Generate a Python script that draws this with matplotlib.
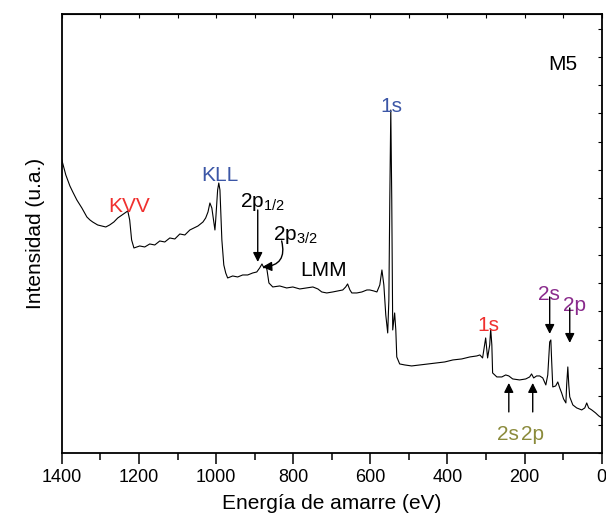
import matplotlib
matplotlib.use('Agg')
import matplotlib.pyplot as plt
from matplotlib.ticker import MultipleLocator, NullFormatter

plt.rcParams['font.family'] = ['Liberation Sans', 'DejaVu Sans']
plt.rcParams['mathtext.fontset'] = 'custom'
plt.rcParams['mathtext.rm'] = 'Liberation Sans'

# espectro XPS (energia de ligacao em eV, intensidade em u.a.)
energia = [1400, 1389.6, 1379, 1371.5, 1361, 1348, 1335, 1327, 1320, 1307,
           1296, 1286, 1276, 1265, 1255, 1244, 1237, 1229, 1224, 1219,
           1213, 1198, 1185, 1172, 1159, 1146, 1133, 1120, 1107, 1094,
           1081, 1068, 1047, 1034, 1027,
           1021, 1016, 1011, 1006, 1003, 1001, 996, 993, 990, 985,
           980, 975, 970, 957, 944, 931, 918, 905, 894.5, 887,
           881, 876, 871, 868, 863, 853, 835, 817, 801, 783,
           765, 749, 736, 726, 713, 697.6, 684.5, 671.5, 664, 659,
           653, 648, 635, 622, 609, 601.5, 591, 583, 575.5, 570,
           565, 560, 555, 552, 549.6, 547, 544.5, 542, 537, 534,
           531.5, 524, 511, 493, 472, 451, 428, 407, 386, 363,
           342, 324, 316, 309, 301, 296, 290.5, 288, 285, 283,
           272, 259, 249, 241, 231, 213, 197, 187, 182, 176.5,
           169, 161, 153, 145, 140, 135, 132, 130, 127, 119.5,
           114, 109, 104, 99, 93, 91, 88, 85.5, 83, 75,
           65, 52, 44, 39, 34, 26, 16, 7.8, 0]
intensidade = [293, 278, 267, 261, 253, 245, 236, 233, 231, 228,
               227, 226, 228, 231, 235, 238, 240, 242, 233, 213,
               205, 207, 206, 209, 208, 212, 211, 215, 214, 219,
               218, 223, 227, 231, 235,
               241, 250, 245, 231, 223, 233, 263, 270, 263, 213,
               188, 180, 175, 177, 176, 178, 178, 180, 181, 185,
               189, 185, 187, 183, 170, 166, 167, 165, 166, 164,
               165, 166, 164, 161, 160, 161, 162, 163, 166, 169,
               163, 160, 160, 161, 163, 163, 162, 161, 168, 183,
               168, 138, 120, 153, 253, 343, 253, 123, 140, 123,
               96, 89, 88, 87, 88, 89, 90, 91, 93, 94,
               96, 97, 98, 95, 115, 95, 108, 124, 108, 80,
               76, 76, 78, 77, 74, 73, 74, 76, 79, 75,
               77, 77, 75, 68, 78, 111, 113, 93, 66, 67,
               71, 65, 60, 54, 50, 68, 86, 68, 56, 48,
               45, 43, 45, 50, 45, 43, 40, 37, 35]

vermelho = '#f0302f'
azul = '#3b56a6'
roxo = '#8a2b8c'
oliva = '#8b8b3c'

fig = plt.figure(figsize=(6.06, 5.2), dpi=100)
ax = fig.add_axes([0.102, 0.129, 0.891, 0.844])
ax.plot(energia, intensidade, color='black', lw=0.8)

ax.set_xlim(1400, 0)
ax.set_ylim(0, 439)
ax.xaxis.set_major_locator(MultipleLocator(200))
ax.xaxis.set_minor_locator(MultipleLocator(100))
ax.yaxis.set_major_locator(MultipleLocator(28.3))
ax.tick_params(axis='x', which='major', direction='out', length=8, width=1.1, labelsize=13)
ax.tick_params(axis='x', which='minor', direction='out', length=5, width=1.1)
ax.tick_params(axis='y', left=False, right=True, labelleft=False, direction='in',
               length=3, width=0.8)
for s in ax.spines.values():
    s.set_linewidth(1.3)

topo = ax.secondary_xaxis('top')
topo.xaxis.set_major_locator(MultipleLocator(200))
topo.xaxis.set_minor_locator(MultipleLocator(100))
topo.xaxis.set_major_formatter(NullFormatter())
topo.tick_params(which='both', direction='in', length=3, width=0.8)

ax.set_xlabel('Energía de amarre (eV)', fontsize=15, labelpad=6)
ax.set_ylabel('Intensidad (u.a.)', fontsize=15, labelpad=12)

fs = 15
ax.text(101, 389, 'M5', fontsize=fs, ha='center', va='center')
ax.text(1226, 246, 'KVV', color=vermelho, fontsize=fs, ha='center', va='center')
ax.text(990, 277, 'KLL', color=azul, fontsize=fs, ha='center', va='center')
ax.text(544.5, 347, '1s', color=azul, fontsize=fs, ha='center', va='center')
ax.text(721, 182, 'LMM', fontsize=fs, ha='center', va='center')
ax.text(293, 127, '1s', color=vermelho, fontsize=fs, ha='center', va='center')
ax.text(939, 246, r'2p$_{\mathregular{1/2}}$', fontsize=fs, ha='left', va='baseline')
ax.text(853, 213, r'2p$_{\mathregular{3/2}}$', fontsize=fs, ha='left', va='baseline')
ax.text(137, 158, '2s', color=roxo, fontsize=fs, ha='center', va='center')
ax.text(70, 147, '2p', color=roxo, fontsize=fs, ha='center', va='center')
ax.text(244, 18, '2s', color=oliva, fontsize=fs, ha='center', va='center')
ax.text(179, 18, '2p', color=oliva, fontsize=fs, ha='center', va='center')

seta = dict(arrowstyle='-|>', color='black', lw=1.0, mutation_scale=14, shrinkA=0, shrinkB=0)
ax.annotate('', xy=(892, 191), xytext=(892, 243), arrowprops=seta)
ax.annotate('', xy=(880, 186), xytext=(830, 212),
            arrowprops=dict(seta, connectionstyle='arc3,rad=-0.6'))
ax.annotate('', xy=(135, 119), xytext=(135, 156), arrowprops=seta)
ax.annotate('', xy=(83, 110), xytext=(83, 145), arrowprops=seta)
ax.annotate('', xy=(241, 70), xytext=(241, 41), arrowprops=seta)
ax.annotate('', xy=(179, 70), xytext=(179, 41), arrowprops=seta)

fig.savefig('out.png', dpi=100)
